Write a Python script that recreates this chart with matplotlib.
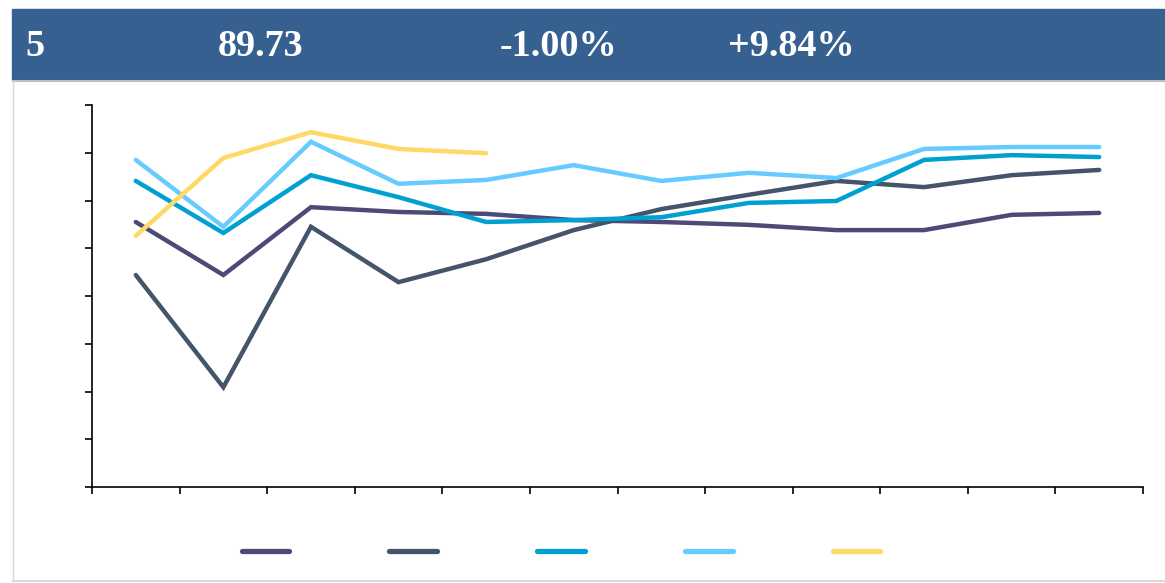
import numpy as np
import matplotlib.pyplot as plt
from matplotlib.patches import Rectangle
from matplotlib.lines import Line2D

# header figures
header_texts = ['5', '89.73', '-1.00%', '+9.84%']
header_x = [25, 218, 500, 728]

# series values (12 periods, axis 0..8, labels hidden in the source)
periods = np.arange(12)
s_purple = [5.55, 4.44, 5.86, 5.76, 5.72, 5.59, 5.55, 5.49, 5.38, 5.38, 5.70, 5.74]
s_slate = [4.44, 2.09, 5.45, 4.29, 4.77, 5.38, 5.82, 6.12, 6.41, 6.28, 6.53, 6.64]
s_teal = [6.41, 5.32, 6.53, 6.07, 5.55, 5.59, 5.65, 5.95, 5.99, 6.85, 6.95, 6.91]
s_light = [6.85, 5.45, 7.23, 6.35, 6.43, 6.74, 6.41, 6.58, 6.47, 7.08, 7.12, 7.12]
s_yellow = [5.26, 6.89, 7.43, 7.08, 6.99]

series = [s_purple, s_slate, s_teal, s_light, s_yellow]
colors = ['#4E4A78', '#44546A', '#00A0D0', '#66CCFF', '#FFD966']

W, H = 1165, 583
fig = plt.figure(figsize=(W / 100, H / 100), dpi=100)

# header band
fig.patches.append(Rectangle((12 / W, 1 - 80 / H), 1 - 12 / W, 71 / H,
                             transform=fig.transFigure, color='#36608F', zorder=0))
fig.add_artist(Line2D([13 / W, 1], [1 - 81 / H] * 2, transform=fig.transFigure,
                      color='#BFBFBF', lw=1.5))
fig.add_artist(Line2D([13 / W, 13 / W], [1 - 81 / H, 1 - 581 / H], transform=fig.transFigure,
                      color='#D9D9D9', lw=1))
fig.add_artist(Line2D([13 / W, 1], [1 - 581 / H] * 2, transform=fig.transFigure,
                      color='#D9D9D9', lw=1.5))
for t, x in zip(header_texts, header_x):
    fig.text(x / W, 1 - 46 / H, t, color='white', fontsize=27.5, fontweight='bold',
             family='Liberation Serif', ha='left', va='center')

ax = fig.add_axes([92 / W, 1 - 487 / H, (1143 - 92) / W, (487 - 105) / H])
handles = []
for vals, c in zip(series, colors):
    ax.plot(periods[:len(vals)], vals, color=c, lw=3.2, solid_capstyle='round',
            solid_joinstyle='miter')
    handles.append(Line2D([], [], color=c, lw=3.8, solid_capstyle='round'))

ax.set_xlim(-0.5, 11.5)
ax.set_ylim(0, 8)
ax.set_xticks(np.arange(-0.5, 12, 1))
ax.set_yticks(np.arange(0, 9, 1))
ax.tick_params(labelleft=False, labelbottom=False, length=5, width=1.2, direction='out')
for s in ['top', 'right']:
    ax.spines[s].set_visible(False)
for s in ['left', 'bottom']:
    ax.spines[s].set_linewidth(1.2)

fig.legend(handles, [''] * 5, ncol=5, loc='center', bbox_to_anchor=(561 / W, 1 - 552 / H),
           frameon=False, fontsize=10, handlelength=3.4, handletextpad=0, columnspacing=7.25)

fig.savefig('out.png', dpi=100)
